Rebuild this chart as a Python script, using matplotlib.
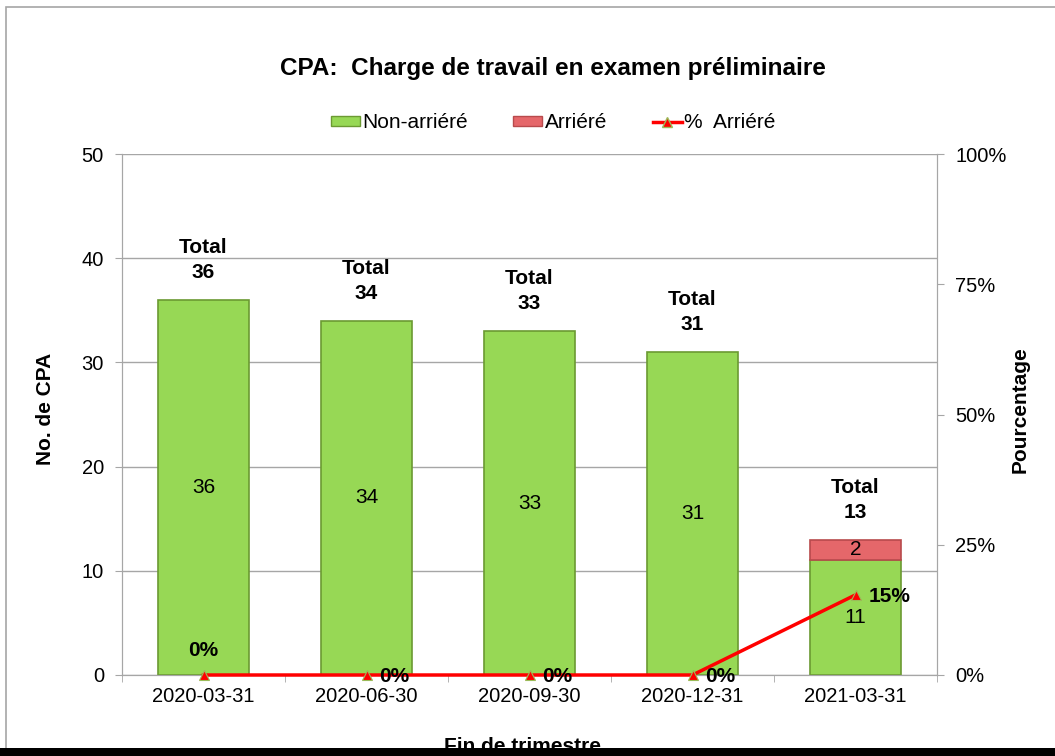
import matplotlib
matplotlib.use("Agg")
import matplotlib.pyplot as plt
from matplotlib.patches import Rectangle
from matplotlib.lines import Line2D

categories = ["2020-03-31", "2020-06-30", "2020-09-30", "2020-12-31", "2021-03-31"]
non_arriere = [36, 34, 33, 31, 11]
arriere = [0, 0, 0, 0, 2]
pct_arriere = [0, 0, 0, 0, 15.38]
pct_labels = ["0%", "0%", "0%", "0%", "15%"]

plt.rcParams['font.family'] = ['Liberation Sans', 'DejaVu Sans']

W, H = 1055, 756
fig = plt.figure(figsize=(W / 100, H / 100), dpi=100)

# outer frame
fig.add_artist(Rectangle((6 / W, -0.1), 1.2, (756 - 7) / H + 0.1, transform=fig.transFigure,
                         fill=False, edgecolor='#A6A6A6', linewidth=1.2))

ax = fig.add_axes([122 / W, (756 - 675) / H, (937 - 122) / W, (675 - 154) / H])
ax2 = ax.twinx()
ax.set_zorder(2)
ax.patch.set_visible(False)
ax2.set_zorder(1)

x = list(range(len(categories)))
green = '#97D855'
green_edge = '#6B9A32'
red = '#E5676A'
red_edge = '#B84A4C'
bw = 0.56

ax.bar(x, non_arriere, width=bw, color=green, edgecolor=green_edge, linewidth=1.2, zorder=2)
xr = [i for i in x if arriere[i] > 0]
ax.bar(xr, [arriere[i] for i in xr], width=bw, bottom=[non_arriere[i] for i in xr], color=red,
       edgecolor=red_edge, linewidth=1.2, zorder=2)

ax.set_ylim(0, 50)
ax.set_xlim(-0.5, len(categories) - 0.5)
ax.set_yticks(range(0, 51, 10))
ax.yaxis.grid(True, color='#A6A6A6', linewidth=1)
ax.set_axisbelow(True)
ax.set_xticks(x)
ax.set_xticklabels(categories)
ax.set_xticks([i - 0.5 for i in range(len(categories) + 1)], minor=True)
ax.tick_params(axis='x', which='major', length=0, pad=9, labelsize=14.5)
ax.tick_params(axis='x', which='minor', length=5, color='#A6A6A6')
ax.tick_params(axis='y', length=5, color='#A6A6A6', labelsize=14.5, pad=8)
for s in ['top']:
    ax.spines[s].set_visible(False)
    ax2.spines[s].set_visible(False)
for s in ['left', 'right', 'bottom']:
    ax.spines[s].set_color('#A6A6A6')
    ax2.spines[s].set_color('#A6A6A6')

ax2.set_ylim(0, 100)
ax2.set_yticks([0, 25, 50, 75, 100])
ax2.set_yticklabels([f"{v}%" for v in [0, 25, 50, 75, 100]])
ax2.tick_params(axis='y', length=5, color='#A6A6A6', labelsize=14.5, pad=8)

# percentage series (0-100%) drawn on the primary axes scale (0-50)
line_y = [p / 2 for p in pct_arriere]
ax.plot(x, line_y, color='#FF0000', linewidth=2.5, marker='^', markersize=7,
        markerfacecolor='#FF0000', markeredgecolor='#9BBB59', markeredgewidth=0.8,
        zorder=4, clip_on=False)

for i in x:
    ax.text(i, non_arriere[i] / 2, str(non_arriere[i]), ha='center', va='center', fontsize=15, zorder=5)
    if arriere[i]:
        ax.text(i, non_arriere[i] + arriere[i] / 2, str(arriere[i]), ha='center', va='center',
                fontsize=15, zorder=5)
    total = non_arriere[i] + arriere[i]
    ax.text(i, total + 1.7, f"Total\n{total}", ha='center', va='bottom', fontsize=15,
            fontweight='bold', linespacing=1.4, zorder=5)

for i in x:
    if i == 0:
        ax.text(i, line_y[i] + 1.4, pct_labels[i], ha='center', va='bottom', fontsize=15,
                fontweight='bold', zorder=5)
    else:
        ax.text(i + 0.08, line_y[i] - 0.15, pct_labels[i], ha='left', va='center', fontsize=15,
                fontweight='bold', zorder=5)

ax.set_ylabel("No. de CPA", fontsize=15, fontweight='bold')
ax.yaxis.set_label_coords((55 - 122) / 815, 0.51)
ax2.set_ylabel("Pourcentage", fontsize=15, fontweight='bold')
ax2.yaxis.set_label_coords((1011 - 122) / 815, 0.51)

fig.text(553 / W, 1 - 68 / H, "CPA:  Charge de travail en examen préliminaire", ha='center',
         va='center', fontsize=17.5, fontweight='bold')
fig.text(523 / W, 1 - 746 / H, "Fin de trimestre", ha='center', va='center', fontsize=15,
         fontweight='bold')

handles = [Rectangle((0, 0), 1, 1, facecolor=green, edgecolor=green_edge),
           Rectangle((0, 0), 1, 1, facecolor=red, edgecolor=red_edge),
           Line2D([0], [0], color='#FF0000', linewidth=2.5, marker='^', markersize=7,
                  markerfacecolor='#FF0000', markeredgecolor='#9BBB59')]
fig.legend(handles, ['Non-arriéré', 'Arriéré', '%  Arriéré'], loc='center',
           bbox_to_anchor=(553 / W, 1 - 123 / H), ncol=3, frameon=False, fontsize=15,
           handlelength=1.4, handleheight=0.4, handletextpad=0.1, columnspacing=2.2)

# bottom black bar (screenshot edge)
fig.add_artist(Rectangle((0, 0), 1, 8 / H, transform=fig.transFigure, facecolor='black',
                         edgecolor='none', zorder=10))

fig.savefig("out.png", dpi=100)
